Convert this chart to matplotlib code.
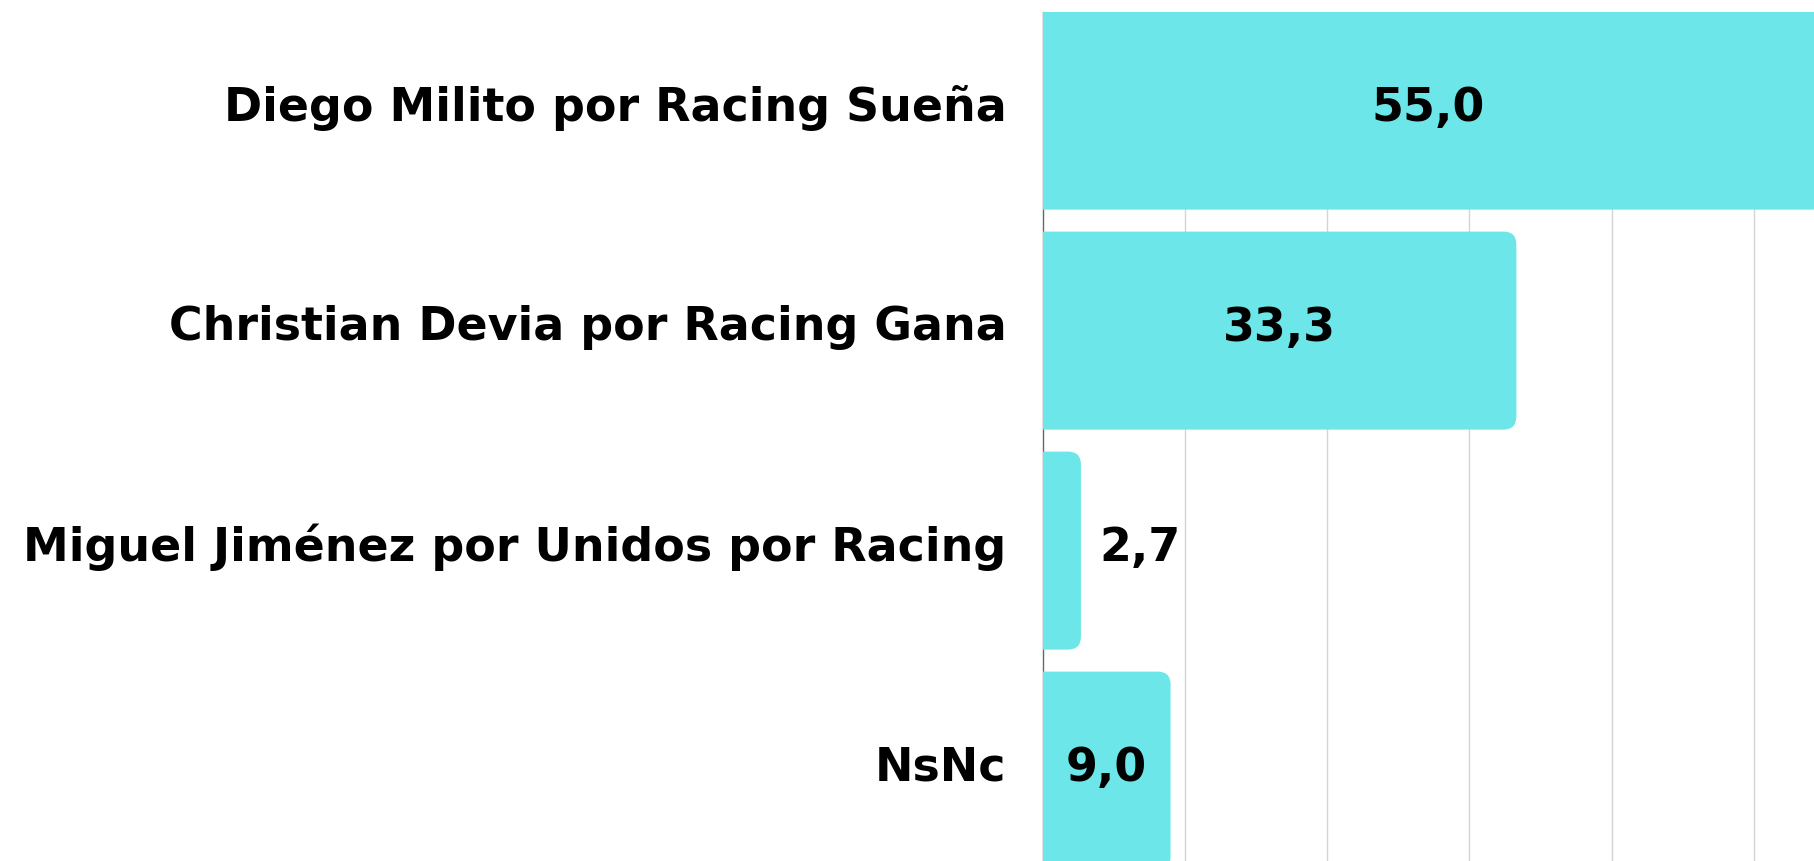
import matplotlib
matplotlib.use("Agg")
import matplotlib.pyplot as plt
import matplotlib.transforms as mtransforms
from matplotlib.patches import FancyBboxPatch

# data
candidates = ["Diego Milito por Racing Sueña",
              "Christian Devia por Racing Gana",
              "Miguel Jiménez por Unidos por Racing",
              "NsNc"]
values = [55.0, 33.3, 2.7, 9.0]
value_labels = ["55,0", "33,3", "2,7", "9,0"]

bar_color = "#6ce6e8"
font = ["DejaVu Sans"]
fsize = 33

W, H = 1814, 861
fig = plt.figure(figsize=(W / 100, H / 100), dpi=100)

ax_left = 1042.5 / W
ax_top = 11.6 / H
ax = fig.add_axes([ax_left, 0, 1 - ax_left, 1 - ax_top])

xmax = (W - 1042.5) / 14.23
ax.set_xlim(0, xmax)
ytop = -0.45
ax.set_ylim(ytop + (H - 11.6) / 220.0, ytop)

ypos = list(range(len(candidates)))
bars = ax.barh(ypos, values, height=0.9, color=bar_color)

# swap the plain rectangles for ones with rounded right corners
px_x = 1 / 14.23   # data units per pixel, x
px_y = 1 / 220.0   # data units per pixel, y
radius = 13 * px_x
for b in bars:
    x, y = b.get_x(), b.get_y()
    w, h = b.get_width(), b.get_height()
    rb = FancyBboxPatch((x - 3, y), w + 3, h,
                        boxstyle="round,pad=0,rounding_size=%f" % radius,
                        mutation_aspect=px_y / px_x,
                        facecolor=bar_color, edgecolor="none", zorder=2)
    ax.add_patch(rb)
    b.remove()

# value labels (nudged up a couple of pixels)
up2 = mtransforms.ScaledTranslation(0, 2 / 100, fig.dpi_scale_trans)
for yy, v, lab in zip(ypos, values, value_labels):
    if v < 5:
        ax.text(v + 18 * px_x, yy, lab, ha="left", va="center",
                fontsize=fsize, fontweight="bold", family=font, color="black",
                zorder=3, transform=ax.transData + up2)
    else:
        xc = min(v, xmax) / 2
        ax.text(xc, yy, lab, ha="center", va="center",
                fontsize=fsize, fontweight="bold", family=font, color="black",
                zorder=3, transform=ax.transData + up2)

ax.set_yticks(ypos, labels=candidates)
ax.tick_params(axis="y", length=0, pad=26)
ax.tick_params(axis="x", length=0, labelbottom=False)
# tick_params resets label transforms, so shift the labels after it
up8 = mtransforms.ScaledTranslation(0, 8 / 100, fig.dpi_scale_trans)
for t in ax.get_yticklabels():
    t.set_fontsize(fsize)
    t.set_fontweight("bold")
    t.set_family(font)
    t.set_color("black")
    t.set_transform(t.get_transform() + up8)

ax.set_xticks([10, 20, 30, 40, 50])
ax.grid(axis="x", color="#d4d4d4", linewidth=1.0, zorder=0)
ax.set_axisbelow(True)

for s in ["top", "right", "bottom"]:
    ax.spines[s].set_visible(False)
ax.spines["left"].set_color("#666666")
ax.spines["left"].set_linewidth(1.0)
ax.spines["left"].set_zorder(1)

fig.savefig("out.png", dpi=100, facecolor="white")
